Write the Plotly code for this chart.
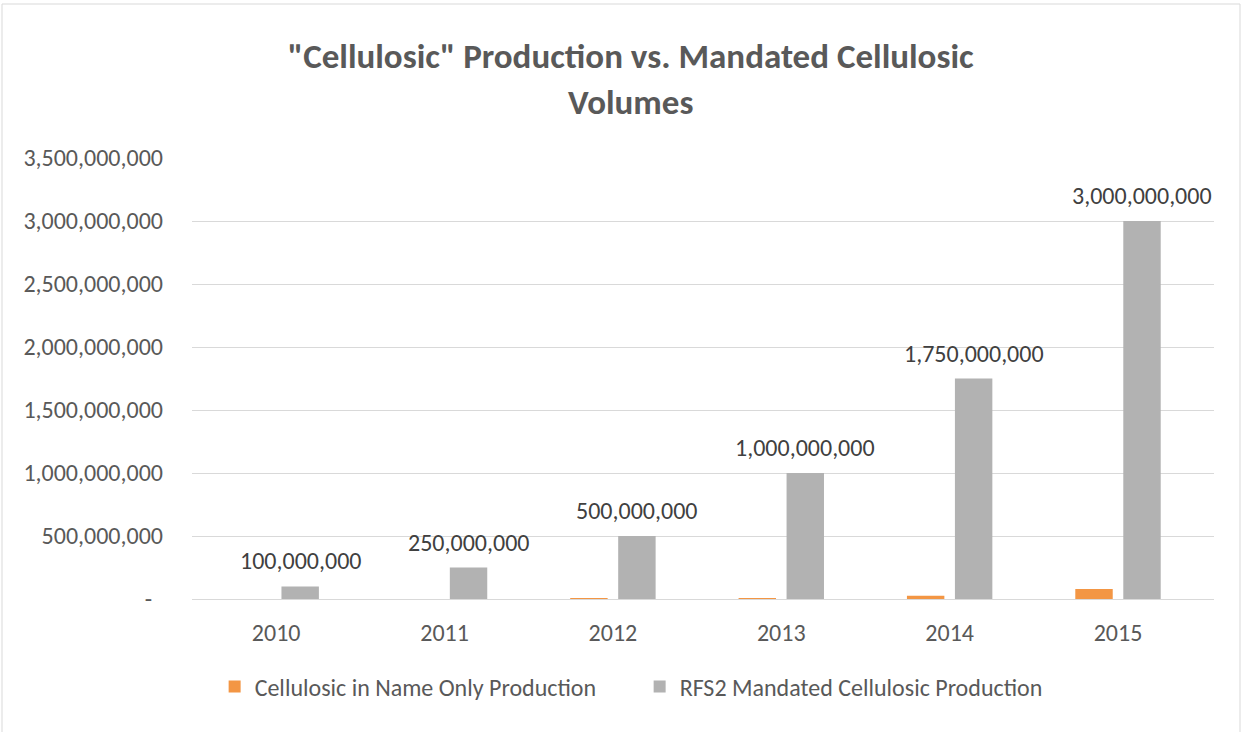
import plotly.graph_objects as go

years = ["2010", "2011", "2012", "2013", "2014", "2015"]
cnop_production = [0, 0, 2_000_000, 2_500_000, 25_000_000, 80_000_000]
rfs2_mandated = [100_000_000, 250_000_000, 500_000_000, 1_000_000_000, 1_750_000_000, 3_000_000_000]
y_tick_vals = [0, 500_000_000, 1_000_000_000, 1_500_000_000, 2_000_000_000, 2_500_000_000, 3_000_000_000, 3_500_000_000]
y_tick_text = ["-\u00a0\u00a0", "500,000,000", "1,000,000,000", "1,500,000,000", "2,000,000,000",
               "2,500,000,000", "3,000,000,000", "3,500,000,000"]

FONT = "Carlito, Lato, sans-serif"
TXT = "#595959"
FS = 24

fig = go.Figure()
fig.add_trace(go.Bar(
    name="Cellulosic in Name Only Production",
    x=years, y=cnop_production,
    marker=dict(color="#F39644", line=dict(width=0)),
))
fig.add_trace(go.Bar(
    name="RFS2 Mandated Cellulosic Production",
    x=years, y=rfs2_mandated,
    marker=dict(color="#B2B2B2", line=dict(width=0)),
))

W, H = 1249, 732
L, R, T, B = 192, 1214, 158, 599
pw, ph = R - L, B - T
BARGAP, GROUPGAP = 0.43, 0.22
slot_off = (1 - BARGAP) / 4  # centre offset of 2nd bar within a category (in category units)

# data labels for the mandated series
for i, (yr, v) in enumerate(zip(years, rfs2_mandated)):
    fig.add_annotation(
        x=i + slot_off, y=v, xref="x", yref="y",
        text=f"{v:,.0f}", showarrow=False,
        xanchor="center", yanchor="bottom", yshift=9,
        font=dict(family=FONT, size=FS, color="#404040"),
    )

fig.update_layout(
    width=W, height=H,
    margin=dict(l=L, r=W - R, t=T, b=H - B),
    paper_bgcolor="white", plot_bgcolor="white",
    font=dict(family=FONT, color=TXT, size=FS),
    title=dict(
        text='"Cellulosic" Production vs. Mandated Cellulosic<br>Volumes',
        x=0.505, xanchor="center", xref="container",
        y=1 - 68 / H, yanchor="top", yref="container",
        font=dict(family=FONT, size=35, color=TXT, weight="bold"),
    ),
    barmode="group", bargap=BARGAP, bargroupgap=GROUPGAP,
    showlegend=True,
    legend=dict(
        orientation="h", x=0.438, xanchor="center",
        y=(B - 687) / ph, yanchor="middle",
        font=dict(family=FONT, size=FS, color=TXT),
        entrywidth=380, entrywidthmode="pixels",
        itemwidth=30,
    ),
    xaxis=dict(
        showline=True, linecolor="#D9D9D9", linewidth=1,
        ticks="", tickfont=dict(family=FONT, size=FS, color=TXT),
        showgrid=False, ticklabelstandoff=12,
    ),
    yaxis=dict(
        range=[0, 3_500_000_000],
        tickvals=y_tick_vals, ticktext=y_tick_text,
        showgrid=True, gridcolor="#D9D9D9", gridwidth=1,
        zeroline=False, showline=False, ticks="",
        tickfont=dict(family=FONT, size=FS, color=TXT),
        ticklabelstandoff=28,
    ),
    shapes=[dict(
        type="rect", xref="paper", yref="paper",
        x0=(2 - L) / pw, x1=(1240 - L) / pw,
        y0=(B - 745) / ph, y1=(B - 4) / ph,
        line=dict(color="#D9D9D9", width=1), fillcolor="rgba(0,0,0,0)",
        layer="below",
    )],
)

fig.write_html("out.html", config={"displayModeBar": False},
               post_script="document.body.style.margin='0px';")
